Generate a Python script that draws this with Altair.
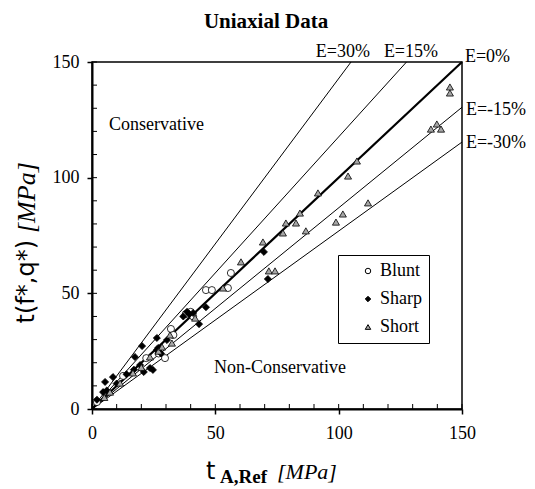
import altair as alt
import pandas as pd

# ---- data ----
series = ["Blunt", "Sharp", "Short"]

blunt_x = [2, 12.6, 22, 27, 29.6, 32, 33, 38, 40, 41, 46.2, 48.6, 55.1, 56.3]
blunt_y = [3, 14.3, 22, 24, 22, 34.6, 32, 41, 42, 40, 51.4, 51.4, 52.3, 58.8]

sharp_x = [2, 4.5, 5.3, 6, 8.5, 10, 14, 17, 17.4, 19.5, 20.3, 21, 23.5, 24.7,
           26.3, 26.8, 26.3, 28, 30.4, 37, 38.5, 39.5, 41, 43.4, 46.2, 69.7, 71.3]
sharp_y = [4, 7.3, 11.7, 8, 13.8, 11, 15, 17, 22.5, 19, 27.2, 16, 17.7, 16.9,
           30.7, 26.4, 25.5, 24, 29.8, 40, 42, 41, 41.5, 36.7, 44, 67.9, 56.2]

short_x = [5, 7.3, 11.4, 16.6, 20, 23.5, 27, 28.4, 32.4, 31.6, 41.8, 53.1, 60.4, 69.3, 71.7,
           74.2, 77.4, 78.6, 82.7, 84.3, 86.7, 91.6, 98.9, 101.7, 103.8, 107.4,
           111.9, 137.4, 139.8, 141.5, 145.1, 145.1]
short_y = [5, 7.3, 11.2, 15.6, 18, 22.5, 25, 26.8, 28.5, 32, 39.3, 52.3, 63.6, 72.2, 59.7,
           59.7, 76.1, 80.4, 80.4, 84.7, 77, 93.4, 80.8, 84.3, 100.7, 107.2,
           89.1, 121, 123.2, 121, 139.2, 136.6]

e_values = [0.30, 0.15, 0.0, -0.15, -0.30]
e_labels = ["E=30%", "E=15%", "E=0%", "E=-15%", "E=-30%"]
e_label_x = [101.7, 129.3, 151.2, 151.6, 151.6]
e_label_y = [154.3, 154.3, 152.0, 129.3, 115.0]
e_label_align = ["center", "center", "left", "left", "left"]

tick_values = [0, 50, 100, 150]
minor_ticks = list(range(0, 151, 10))

region_text = ["Conservative", "Non-Conservative"]
region_x = [6.9, 76.2]
region_y = [122.8, 17.7]
region_align = ["left", "center"]

W, H = 370, 347
SERIF = "Liberation Serif"

pts = pd.DataFrame({
    "x": blunt_x + sharp_x + short_x,
    "y": blunt_y + sharp_y + short_y,
    "series": ["Blunt"] * len(blunt_x) + ["Sharp"] * len(sharp_x) + ["Short"] * len(short_x),
})

rows = []
for e in e_values:
    k = 1.0 / (1.0 - e)
    xe = min(150.0, 150.0 / k)
    rows.append({"E": e, "x": 0.0, "y": 0.0})
    rows.append({"E": e, "x": xe, "y": xe * k})
lines_df = pd.DataFrame(rows)

lab_df = pd.DataFrame({"x": e_label_x, "y": e_label_y, "t": e_labels, "a": e_label_align})
reg_df = pd.DataFrame({"x": region_x, "y": region_y, "t": region_text, "a": region_align})
mt_df = pd.DataFrame({"x": minor_ticks, "y": minor_ticks})

xs = alt.Scale(domain=[0, 150], nice=False, zero=True)
ys = alt.Scale(domain=[0, 150], nice=False, zero=True)

common_axis = dict(values=tick_values, grid=False, title=None, domainColor="black",
                   domainWidth=2, tickColor="black", tickWidth=1.5, tickSize=5,
                   labelFont=SERIF, labelFontSize=18, labelColor="black",
                   labelFlush=False, labelOverlap=False)
xaxis = alt.Axis(labelPadding=10, **common_axis)
yaxis = alt.Axis(labelPadding=8, **common_axis)

X = alt.X("x:Q", scale=xs, axis=xaxis)
Y = alt.Y("y:Q", scale=ys, axis=yaxis)

leg = alt.Legend(title=None, orient="none", legendX=246, legendY=193,
                 strokeColor="black", fillColor="white", padding=7,
                 symbolOffset=14, labelOffset=3, rowPadding=10,
                 labelFont=SERIF, labelFontSize=18, labelColor="black",
                 symbolSize=30, symbolStrokeWidth=1,
                 labelExpr="datum.label + '          '")

ref_lines = alt.Chart(lines_df).transform_filter("datum.E != 0").mark_line(
    color="black", strokeWidth=1).encode(x=X, y=Y, detail="E:N")
zero_line = alt.Chart(lines_df).transform_filter("datum.E == 0").mark_line(
    color="black", strokeWidth=2.2).encode(x=X, y=Y, detail="E:N")

points = alt.Chart(pts).mark_point(filled=True, strokeWidth=0.8,
                                   opacity=1, size=50).encode(
    x=X, y=Y,
    shape=alt.Shape("series:N", scale=alt.Scale(domain=series, range=["circle", "diamond", "triangle-up"]), legend=leg),
    fill=alt.Fill("series:N", scale=alt.Scale(domain=series, range=["white", "black", "#a6a6a6"]), legend=leg),
    stroke=alt.Stroke("series:N", scale=alt.Scale(domain=series, range=["black", "black", "black"]), legend=leg),
)

xticks_in = alt.Chart(mt_df).mark_rule(color="black", strokeWidth=1).encode(
    x=X, y=alt.value(H), y2=alt.value(H - 5))
yticks_in = alt.Chart(mt_df).mark_rule(color="black", strokeWidth=1).encode(
    y=Y, x=alt.value(0), x2=alt.value(5))


def text_layer(df, align):
    return alt.Chart(df).transform_filter(f"datum.a == '{align}'").mark_text(
        font=SERIF, fontSize=18, baseline="middle", color="black", align=align).encode(
        x=X, y=Y, text="t:N")


e_text_c = text_layer(lab_df, "center")
e_text_l = text_layer(lab_df, "left")
reg_text_c = text_layer(reg_df, "center")
reg_text_l = text_layer(reg_df, "left")

title = alt.Chart(pd.DataFrame({"t": ["Uniaxial Data"]})).mark_text(
    font=SERIF, fontSize=21, fontWeight="bold", align="center", baseline="middle", color="black").encode(
    text="t:N", x=alt.value(174), y=alt.value(-40))

ytitle1 = alt.Chart(pd.DataFrame({"t": ["t(f*,q*)"]})).mark_text(
    font="DejaVu Sans", fontSize=24, angle=270, align="right", baseline="middle", color="black").encode(
    text="t:N", x=alt.value(-65), y=alt.value(178))
ytitle2 = alt.Chart(pd.DataFrame({"t": ["[MPa]"]})).mark_text(
    font=SERIF, fontSize=26, fontStyle="italic", angle=270, align="left", baseline="middle", color="black").encode(
    text="t:N", x=alt.value(-65), y=alt.value(171))

xtitle1 = alt.Chart(pd.DataFrame({"t": ["t"]})).mark_text(
    font="DejaVu Sans", fontSize=24, align="left", baseline="alphabetic", color="black").encode(
    text="t:N", x=alt.value(114), y=alt.value(417))
xtitle2 = alt.Chart(pd.DataFrame({"t": ["A,Ref"]})).mark_text(
    font=SERIF, fontSize=19, fontWeight="bold", align="left", baseline="alphabetic", color="black").encode(
    text="t:N", x=alt.value(128), y=alt.value(421))
xtitle3 = alt.Chart(pd.DataFrame({"t": ["[MPa]"]})).mark_text(
    font=SERIF, fontSize=22, fontStyle="italic", align="left", baseline="alphabetic", color="black").encode(
    text="t:N", x=alt.value(185), y=alt.value(417))

chart = alt.layer(
    ref_lines, zero_line, xticks_in, yticks_in, points,
    e_text_c, e_text_l, reg_text_c, reg_text_l,
    title, ytitle1, ytitle2, xtitle1, xtitle2, xtitle3
).properties(
    width=W, height=H,
    autosize=alt.AutoSizeParams(type="none"),
    padding={"left": 84, "top": 54, "right": 65, "bottom": 78},
).configure_view(stroke="black", strokeWidth=1.5)

chart.save("out.html", embed_options={"renderer": "svg", "actions": False})
